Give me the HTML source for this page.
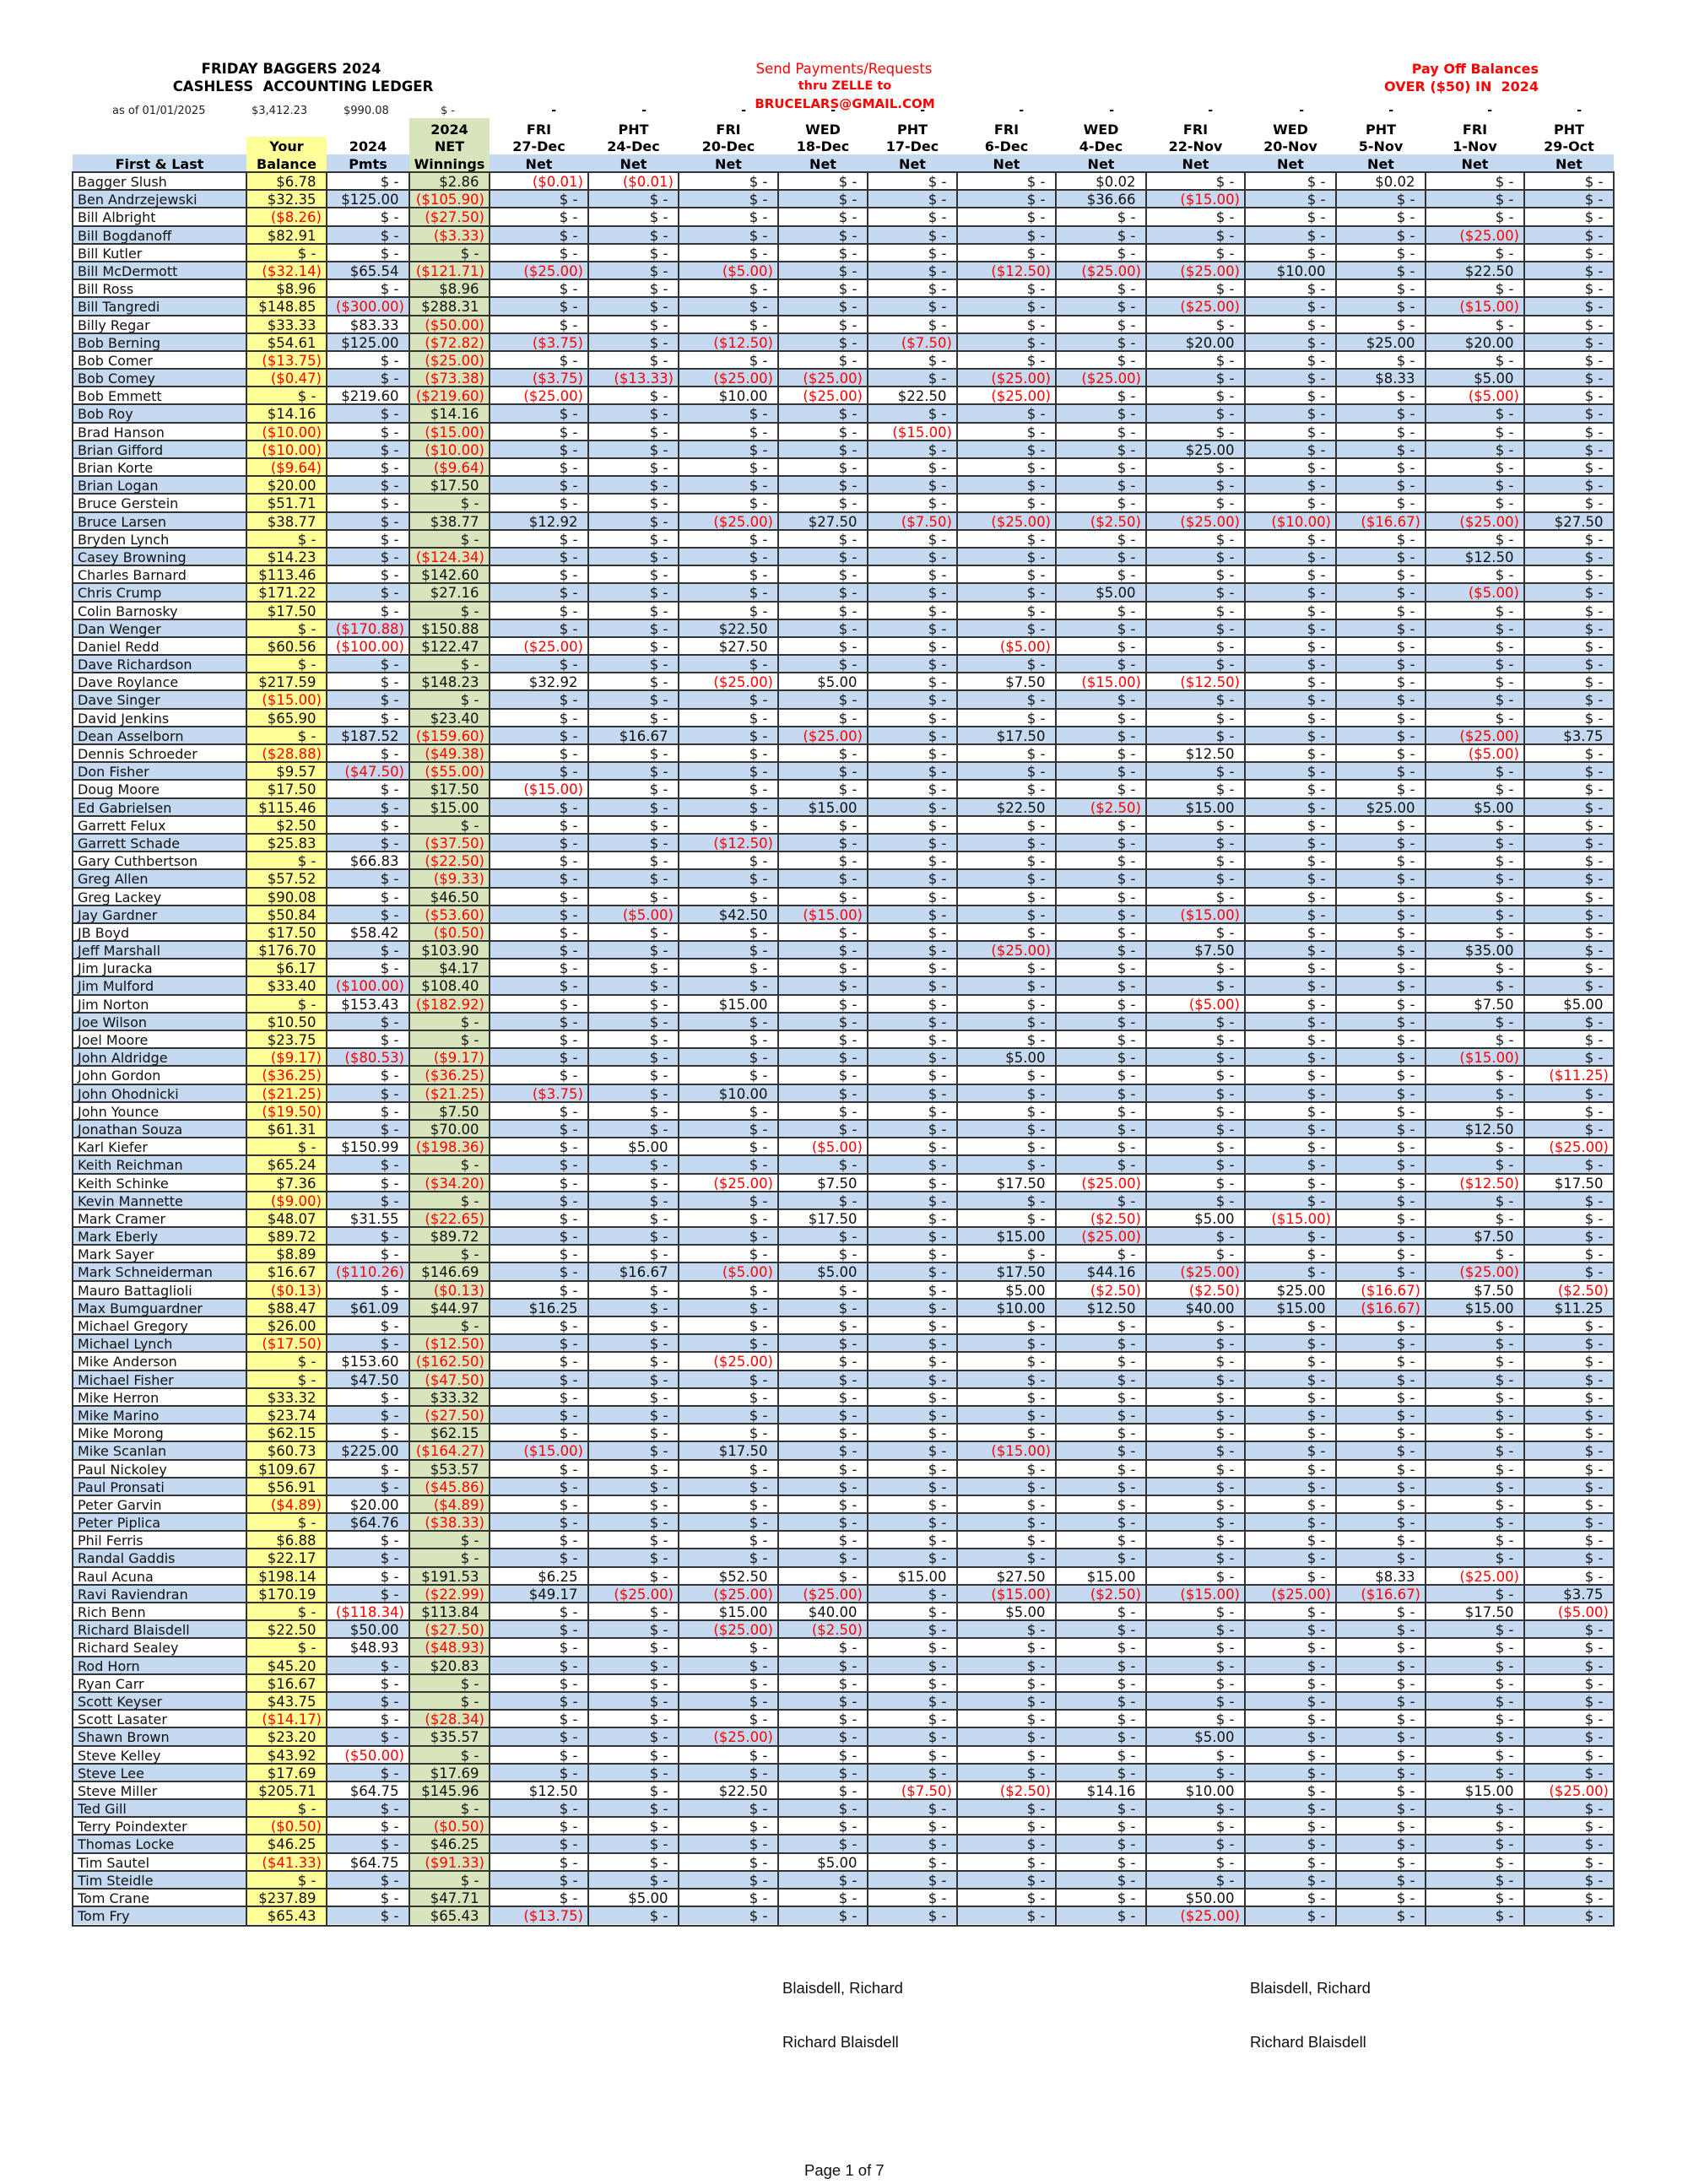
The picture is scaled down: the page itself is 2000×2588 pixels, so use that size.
<!DOCTYPE html>
<html><head><meta charset="utf-8"><style>
*{margin:0;padding:0;box-sizing:border-box}
html,body{width:2000px;height:2588px;background:#fff;overflow:hidden}
body{position:relative;font-family:"DejaVu Sans",sans-serif;color:#111}
.a{position:absolute;white-space:pre}
.g>*{position:absolute;top:0;height:100%;font-style:normal;white-space:pre}
.g>:nth-child(1){left:0;width:206px}
.g>:nth-child(2){left:206px;width:95px}
.g>:nth-child(3){left:301px;width:98px}
.g>:nth-child(4){left:399px;width:95px}
.g>:nth-child(5){left:494px;width:117px}
.g>:nth-child(6){left:611px;width:107px}
.g>:nth-child(7){left:718px;width:118px}
.g>:nth-child(8){left:836px;width:106px}
.g>:nth-child(9){left:942px;width:106px}
.g>:nth-child(10){left:1048px;width:117px}
.g>:nth-child(11){left:1165px;width:107px}
.g>:nth-child(12){left:1272px;width:117px}
.g>:nth-child(13){left:1389px;width:108px}
.g>:nth-child(14){left:1497px;width:106px}
.g>:nth-child(15){left:1603px;width:117px}
.g>:nth-child(16){left:1720px;width:106px}
.h{position:absolute;left:86px;width:1826px;height:20px;line-height:20px;font-size:16px;font-weight:bold;text-align:center;color:#000}
.d{position:absolute;left:86px;width:1826px;height:16px;line-height:16px;font-size:14px;font-weight:bold;text-align:right;color:#000}
.d>*{padding-right:38px}
#tb{position:absolute;left:86px;top:204px;width:1826px}
.r{position:relative;width:1826px;height:21.2px;font-size:16.5px;line-height:21.2px}
.r:nth-child(even){background:#c5d9f1}
.r::before{content:"";position:absolute;left:0;right:0;top:-1px;height:2px;background:#333;z-index:1}
.r>*{text-align:right;padding:1px 12.5px 0 0}
.r>b{color:#f00;font-weight:normal;padding-right:6px}
.r>:first-child{text-align:left;padding:1px 0 0 6px;font-size:16px}
.r>:nth-child(2){background:#ffff99}
.r>:nth-child(4){background:#d8e4bc}
.v{position:absolute;top:203px;height:2080px;width:2px;background:#333;z-index:2}
.bt{font-family:"Liberation Sans",sans-serif;font-size:18.5px;line-height:18.5px;color:#111}
</style></head><body>

<div class="a" style="left:45px;top:72px;width:600px;text-align:center;font-weight:bold;font-size:16.5px;line-height:20px;color:#000">FRIDAY BAGGERS 2024</div>
<div class="a" style="left:59px;top:92.6px;width:600px;text-align:center;font-weight:bold;font-size:16.5px;line-height:20px;color:#000">CASHLESS  ACCOUNTING LEDGER</div>

<div class="a" style="left:700px;top:72px;width:600px;text-align:center;font-size:16.5px;line-height:20px;color:#f00">Send Payments/Requests</div>
<div class="a" style="left:701px;top:91.7px;width:600px;text-align:center;font-weight:bold;font-size:14.5px;line-height:20px;color:#f00">thru ZELLE to</div>

<div class="a" style="left:1423px;top:72.1px;width:400px;text-align:right;font-weight:bold;font-size:16px;line-height:20px;color:#f00">Pay Off Balances</div>
<div class="a" style="left:1423px;top:92.7px;width:400px;text-align:right;font-weight:bold;font-size:16px;line-height:20px;color:#f00">OVER ($50) IN  2024</div>

<div class="a" style="left:133px;top:123.5px;font-size:13px;line-height:16px;color:#222">as of 01/01/2025</div>
<div class="a" style="left:298px;top:123.5px;font-size:13px;line-height:16px;color:#222">$3,412.23</div>
<div class="a" style="left:407px;top:123.5px;font-size:13px;line-height:16px;color:#222">$990.08</div>
<div class="a" style="left:522px;top:123.5px;font-size:13px;line-height:16px;color:#222">$ -</div>

<div class="g d" style="top:123px"><i></i><i></i><i></i><i></i><i>-</i><i>-</i><i>-</i><i>-</i><i>-</i><i>-</i><i>-</i><i>-</i><i>-</i><i>-</i><i>-</i><i>-</i></div>

<div class="a" style="left:701px;top:113.1px;width:600px;text-align:center;font-weight:bold;font-size:15px;line-height:20px;color:#f00">BRUCELARS@GMAIL.COM</div>

<div class="a" style="left:485px;top:140px;width:95px;height:64px;background:#d8e4bc"></div>
<div class="a" style="left:292px;top:162px;width:95px;height:42px;background:#ffff99"></div>
<div class="a" style="left:86px;top:183px;width:206px;height:21px;background:#c5d9f1"></div>
<div class="a" style="left:387px;top:183px;width:98px;height:21px;background:#c5d9f1"></div>
<div class="a" style="left:580px;top:183px;width:1332px;height:21px;background:#c5d9f1"></div>

<div class="g h" style="top:143.7px"><i></i><i></i><i></i><i>2024</i><i>FRI</i><i>PHT</i><i>FRI</i><i>WED</i><i>PHT</i><i>FRI</i><i>WED</i><i>FRI</i><i>WED</i><i>PHT</i><i>FRI</i><i>PHT</i></div>
<div class="g h" style="top:163.7px"><i></i><i>Your</i><i>2024</i><i>NET</i><i>27-Dec</i><i>24-Dec</i><i>20-Dec</i><i>18-Dec</i><i>17-Dec</i><i>6-Dec</i><i>4-Dec</i><i>22-Nov</i><i>20-Nov</i><i>5-Nov</i><i>1-Nov</i><i>29-Oct</i></div>
<div class="g h" style="top:185px"><i>First &amp; Last</i><i>Balance</i><i>Pmts</i><i>Winnings</i><i>Net</i><i>Net</i><i>Net</i><i>Net</i><i>Net</i><i>Net</i><i>Net</i><i>Net</i><i>Net</i><i>Net</i><i>Net</i><i>Net</i></div>

<div id="tb">
<div class="g r"><i>Bagger Slush</i><i>$6.78</i><i>$ -</i><i>$2.86</i><b>($0.01)</b><b>($0.01)</b><i>$ -</i><i>$ -</i><i>$ -</i><i>$ -</i><i>$0.02</i><i>$ -</i><i>$ -</i><i>$0.02</i><i>$ -</i><i>$ -</i></div>
<div class="g r"><i>Ben Andrzejewski</i><i>$32.35</i><i>$125.00</i><b>($105.90)</b><i>$ -</i><i>$ -</i><i>$ -</i><i>$ -</i><i>$ -</i><i>$ -</i><i>$36.66</i><b>($15.00)</b><i>$ -</i><i>$ -</i><i>$ -</i><i>$ -</i></div>
<div class="g r"><i>Bill Albright</i><b>($8.26)</b><i>$ -</i><b>($27.50)</b><i>$ -</i><i>$ -</i><i>$ -</i><i>$ -</i><i>$ -</i><i>$ -</i><i>$ -</i><i>$ -</i><i>$ -</i><i>$ -</i><i>$ -</i><i>$ -</i></div>
<div class="g r"><i>Bill Bogdanoff</i><i>$82.91</i><i>$ -</i><b>($3.33)</b><i>$ -</i><i>$ -</i><i>$ -</i><i>$ -</i><i>$ -</i><i>$ -</i><i>$ -</i><i>$ -</i><i>$ -</i><i>$ -</i><b>($25.00)</b><i>$ -</i></div>
<div class="g r"><i>Bill Kutler</i><i>$ -</i><i>$ -</i><i>$ -</i><i>$ -</i><i>$ -</i><i>$ -</i><i>$ -</i><i>$ -</i><i>$ -</i><i>$ -</i><i>$ -</i><i>$ -</i><i>$ -</i><i>$ -</i><i>$ -</i></div>
<div class="g r"><i>Bill McDermott</i><b>($32.14)</b><i>$65.54</i><b>($121.71)</b><b>($25.00)</b><i>$ -</i><b>($5.00)</b><i>$ -</i><i>$ -</i><b>($12.50)</b><b>($25.00)</b><b>($25.00)</b><i>$10.00</i><i>$ -</i><i>$22.50</i><i>$ -</i></div>
<div class="g r"><i>Bill Ross</i><i>$8.96</i><i>$ -</i><i>$8.96</i><i>$ -</i><i>$ -</i><i>$ -</i><i>$ -</i><i>$ -</i><i>$ -</i><i>$ -</i><i>$ -</i><i>$ -</i><i>$ -</i><i>$ -</i><i>$ -</i></div>
<div class="g r"><i>Bill Tangredi</i><i>$148.85</i><b>($300.00)</b><i>$288.31</i><i>$ -</i><i>$ -</i><i>$ -</i><i>$ -</i><i>$ -</i><i>$ -</i><i>$ -</i><b>($25.00)</b><i>$ -</i><i>$ -</i><b>($15.00)</b><i>$ -</i></div>
<div class="g r"><i>Billy Regar</i><i>$33.33</i><i>$83.33</i><b>($50.00)</b><i>$ -</i><i>$ -</i><i>$ -</i><i>$ -</i><i>$ -</i><i>$ -</i><i>$ -</i><i>$ -</i><i>$ -</i><i>$ -</i><i>$ -</i><i>$ -</i></div>
<div class="g r"><i>Bob Berning</i><i>$54.61</i><i>$125.00</i><b>($72.82)</b><b>($3.75)</b><i>$ -</i><b>($12.50)</b><i>$ -</i><b>($7.50)</b><i>$ -</i><i>$ -</i><i>$20.00</i><i>$ -</i><i>$25.00</i><i>$20.00</i><i>$ -</i></div>
<div class="g r"><i>Bob Comer</i><b>($13.75)</b><i>$ -</i><b>($25.00)</b><i>$ -</i><i>$ -</i><i>$ -</i><i>$ -</i><i>$ -</i><i>$ -</i><i>$ -</i><i>$ -</i><i>$ -</i><i>$ -</i><i>$ -</i><i>$ -</i></div>
<div class="g r"><i>Bob Comey</i><b>($0.47)</b><i>$ -</i><b>($73.38)</b><b>($3.75)</b><b>($13.33)</b><b>($25.00)</b><b>($25.00)</b><i>$ -</i><b>($25.00)</b><b>($25.00)</b><i>$ -</i><i>$ -</i><i>$8.33</i><i>$5.00</i><i>$ -</i></div>
<div class="g r"><i>Bob Emmett</i><i>$ -</i><i>$219.60</i><b>($219.60)</b><b>($25.00)</b><i>$ -</i><i>$10.00</i><b>($25.00)</b><i>$22.50</i><b>($25.00)</b><i>$ -</i><i>$ -</i><i>$ -</i><i>$ -</i><b>($5.00)</b><i>$ -</i></div>
<div class="g r"><i>Bob Roy</i><i>$14.16</i><i>$ -</i><i>$14.16</i><i>$ -</i><i>$ -</i><i>$ -</i><i>$ -</i><i>$ -</i><i>$ -</i><i>$ -</i><i>$ -</i><i>$ -</i><i>$ -</i><i>$ -</i><i>$ -</i></div>
<div class="g r"><i>Brad Hanson</i><b>($10.00)</b><i>$ -</i><b>($15.00)</b><i>$ -</i><i>$ -</i><i>$ -</i><i>$ -</i><b>($15.00)</b><i>$ -</i><i>$ -</i><i>$ -</i><i>$ -</i><i>$ -</i><i>$ -</i><i>$ -</i></div>
<div class="g r"><i>Brian Gifford</i><b>($10.00)</b><i>$ -</i><b>($10.00)</b><i>$ -</i><i>$ -</i><i>$ -</i><i>$ -</i><i>$ -</i><i>$ -</i><i>$ -</i><i>$25.00</i><i>$ -</i><i>$ -</i><i>$ -</i><i>$ -</i></div>
<div class="g r"><i>Brian Korte</i><b>($9.64)</b><i>$ -</i><b>($9.64)</b><i>$ -</i><i>$ -</i><i>$ -</i><i>$ -</i><i>$ -</i><i>$ -</i><i>$ -</i><i>$ -</i><i>$ -</i><i>$ -</i><i>$ -</i><i>$ -</i></div>
<div class="g r"><i>Brian Logan</i><i>$20.00</i><i>$ -</i><i>$17.50</i><i>$ -</i><i>$ -</i><i>$ -</i><i>$ -</i><i>$ -</i><i>$ -</i><i>$ -</i><i>$ -</i><i>$ -</i><i>$ -</i><i>$ -</i><i>$ -</i></div>
<div class="g r"><i>Bruce Gerstein</i><i>$51.71</i><i>$ -</i><i>$ -</i><i>$ -</i><i>$ -</i><i>$ -</i><i>$ -</i><i>$ -</i><i>$ -</i><i>$ -</i><i>$ -</i><i>$ -</i><i>$ -</i><i>$ -</i><i>$ -</i></div>
<div class="g r"><i>Bruce Larsen</i><i>$38.77</i><i>$ -</i><i>$38.77</i><i>$12.92</i><i>$ -</i><b>($25.00)</b><i>$27.50</i><b>($7.50)</b><b>($25.00)</b><b>($2.50)</b><b>($25.00)</b><b>($10.00)</b><b>($16.67)</b><b>($25.00)</b><i>$27.50</i></div>
<div class="g r"><i>Bryden Lynch</i><i>$ -</i><i>$ -</i><i>$ -</i><i>$ -</i><i>$ -</i><i>$ -</i><i>$ -</i><i>$ -</i><i>$ -</i><i>$ -</i><i>$ -</i><i>$ -</i><i>$ -</i><i>$ -</i><i>$ -</i></div>
<div class="g r"><i>Casey Browning</i><i>$14.23</i><i>$ -</i><b>($124.34)</b><i>$ -</i><i>$ -</i><i>$ -</i><i>$ -</i><i>$ -</i><i>$ -</i><i>$ -</i><i>$ -</i><i>$ -</i><i>$ -</i><i>$12.50</i><i>$ -</i></div>
<div class="g r"><i>Charles Barnard</i><i>$113.46</i><i>$ -</i><i>$142.60</i><i>$ -</i><i>$ -</i><i>$ -</i><i>$ -</i><i>$ -</i><i>$ -</i><i>$ -</i><i>$ -</i><i>$ -</i><i>$ -</i><i>$ -</i><i>$ -</i></div>
<div class="g r"><i>Chris Crump</i><i>$171.22</i><i>$ -</i><i>$27.16</i><i>$ -</i><i>$ -</i><i>$ -</i><i>$ -</i><i>$ -</i><i>$ -</i><i>$5.00</i><i>$ -</i><i>$ -</i><i>$ -</i><b>($5.00)</b><i>$ -</i></div>
<div class="g r"><i>Colin Barnosky</i><i>$17.50</i><i>$ -</i><i>$ -</i><i>$ -</i><i>$ -</i><i>$ -</i><i>$ -</i><i>$ -</i><i>$ -</i><i>$ -</i><i>$ -</i><i>$ -</i><i>$ -</i><i>$ -</i><i>$ -</i></div>
<div class="g r"><i>Dan Wenger</i><i>$ -</i><b>($170.88)</b><i>$150.88</i><i>$ -</i><i>$ -</i><i>$22.50</i><i>$ -</i><i>$ -</i><i>$ -</i><i>$ -</i><i>$ -</i><i>$ -</i><i>$ -</i><i>$ -</i><i>$ -</i></div>
<div class="g r"><i>Daniel Redd</i><i>$60.56</i><b>($100.00)</b><i>$122.47</i><b>($25.00)</b><i>$ -</i><i>$27.50</i><i>$ -</i><i>$ -</i><b>($5.00)</b><i>$ -</i><i>$ -</i><i>$ -</i><i>$ -</i><i>$ -</i><i>$ -</i></div>
<div class="g r"><i>Dave Richardson</i><i>$ -</i><i>$ -</i><i>$ -</i><i>$ -</i><i>$ -</i><i>$ -</i><i>$ -</i><i>$ -</i><i>$ -</i><i>$ -</i><i>$ -</i><i>$ -</i><i>$ -</i><i>$ -</i><i>$ -</i></div>
<div class="g r"><i>Dave Roylance</i><i>$217.59</i><i>$ -</i><i>$148.23</i><i>$32.92</i><i>$ -</i><b>($25.00)</b><i>$5.00</i><i>$ -</i><i>$7.50</i><b>($15.00)</b><b>($12.50)</b><i>$ -</i><i>$ -</i><i>$ -</i><i>$ -</i></div>
<div class="g r"><i>Dave Singer</i><b>($15.00)</b><i>$ -</i><i>$ -</i><i>$ -</i><i>$ -</i><i>$ -</i><i>$ -</i><i>$ -</i><i>$ -</i><i>$ -</i><i>$ -</i><i>$ -</i><i>$ -</i><i>$ -</i><i>$ -</i></div>
<div class="g r"><i>David Jenkins</i><i>$65.90</i><i>$ -</i><i>$23.40</i><i>$ -</i><i>$ -</i><i>$ -</i><i>$ -</i><i>$ -</i><i>$ -</i><i>$ -</i><i>$ -</i><i>$ -</i><i>$ -</i><i>$ -</i><i>$ -</i></div>
<div class="g r"><i>Dean Asselborn</i><i>$ -</i><i>$187.52</i><b>($159.60)</b><i>$ -</i><i>$16.67</i><i>$ -</i><b>($25.00)</b><i>$ -</i><i>$17.50</i><i>$ -</i><i>$ -</i><i>$ -</i><i>$ -</i><b>($25.00)</b><i>$3.75</i></div>
<div class="g r"><i>Dennis Schroeder</i><b>($28.88)</b><i>$ -</i><b>($49.38)</b><i>$ -</i><i>$ -</i><i>$ -</i><i>$ -</i><i>$ -</i><i>$ -</i><i>$ -</i><i>$12.50</i><i>$ -</i><i>$ -</i><b>($5.00)</b><i>$ -</i></div>
<div class="g r"><i>Don Fisher</i><i>$9.57</i><b>($47.50)</b><b>($55.00)</b><i>$ -</i><i>$ -</i><i>$ -</i><i>$ -</i><i>$ -</i><i>$ -</i><i>$ -</i><i>$ -</i><i>$ -</i><i>$ -</i><i>$ -</i><i>$ -</i></div>
<div class="g r"><i>Doug Moore</i><i>$17.50</i><i>$ -</i><i>$17.50</i><b>($15.00)</b><i>$ -</i><i>$ -</i><i>$ -</i><i>$ -</i><i>$ -</i><i>$ -</i><i>$ -</i><i>$ -</i><i>$ -</i><i>$ -</i><i>$ -</i></div>
<div class="g r"><i>Ed Gabrielsen</i><i>$115.46</i><i>$ -</i><i>$15.00</i><i>$ -</i><i>$ -</i><i>$ -</i><i>$15.00</i><i>$ -</i><i>$22.50</i><b>($2.50)</b><i>$15.00</i><i>$ -</i><i>$25.00</i><i>$5.00</i><i>$ -</i></div>
<div class="g r"><i>Garrett Felux</i><i>$2.50</i><i>$ -</i><i>$ -</i><i>$ -</i><i>$ -</i><i>$ -</i><i>$ -</i><i>$ -</i><i>$ -</i><i>$ -</i><i>$ -</i><i>$ -</i><i>$ -</i><i>$ -</i><i>$ -</i></div>
<div class="g r"><i>Garrett Schade</i><i>$25.83</i><i>$ -</i><b>($37.50)</b><i>$ -</i><i>$ -</i><b>($12.50)</b><i>$ -</i><i>$ -</i><i>$ -</i><i>$ -</i><i>$ -</i><i>$ -</i><i>$ -</i><i>$ -</i><i>$ -</i></div>
<div class="g r"><i>Gary Cuthbertson</i><i>$ -</i><i>$66.83</i><b>($22.50)</b><i>$ -</i><i>$ -</i><i>$ -</i><i>$ -</i><i>$ -</i><i>$ -</i><i>$ -</i><i>$ -</i><i>$ -</i><i>$ -</i><i>$ -</i><i>$ -</i></div>
<div class="g r"><i>Greg Allen</i><i>$57.52</i><i>$ -</i><b>($9.33)</b><i>$ -</i><i>$ -</i><i>$ -</i><i>$ -</i><i>$ -</i><i>$ -</i><i>$ -</i><i>$ -</i><i>$ -</i><i>$ -</i><i>$ -</i><i>$ -</i></div>
<div class="g r"><i>Greg Lackey</i><i>$90.08</i><i>$ -</i><i>$46.50</i><i>$ -</i><i>$ -</i><i>$ -</i><i>$ -</i><i>$ -</i><i>$ -</i><i>$ -</i><i>$ -</i><i>$ -</i><i>$ -</i><i>$ -</i><i>$ -</i></div>
<div class="g r"><i>Jay Gardner</i><i>$50.84</i><i>$ -</i><b>($53.60)</b><i>$ -</i><b>($5.00)</b><i>$42.50</i><b>($15.00)</b><i>$ -</i><i>$ -</i><i>$ -</i><b>($15.00)</b><i>$ -</i><i>$ -</i><i>$ -</i><i>$ -</i></div>
<div class="g r"><i>JB Boyd</i><i>$17.50</i><i>$58.42</i><b>($0.50)</b><i>$ -</i><i>$ -</i><i>$ -</i><i>$ -</i><i>$ -</i><i>$ -</i><i>$ -</i><i>$ -</i><i>$ -</i><i>$ -</i><i>$ -</i><i>$ -</i></div>
<div class="g r"><i>Jeff Marshall</i><i>$176.70</i><i>$ -</i><i>$103.90</i><i>$ -</i><i>$ -</i><i>$ -</i><i>$ -</i><i>$ -</i><b>($25.00)</b><i>$ -</i><i>$7.50</i><i>$ -</i><i>$ -</i><i>$35.00</i><i>$ -</i></div>
<div class="g r"><i>Jim Juracka</i><i>$6.17</i><i>$ -</i><i>$4.17</i><i>$ -</i><i>$ -</i><i>$ -</i><i>$ -</i><i>$ -</i><i>$ -</i><i>$ -</i><i>$ -</i><i>$ -</i><i>$ -</i><i>$ -</i><i>$ -</i></div>
<div class="g r"><i>Jim Mulford</i><i>$33.40</i><b>($100.00)</b><i>$108.40</i><i>$ -</i><i>$ -</i><i>$ -</i><i>$ -</i><i>$ -</i><i>$ -</i><i>$ -</i><i>$ -</i><i>$ -</i><i>$ -</i><i>$ -</i><i>$ -</i></div>
<div class="g r"><i>Jim Norton</i><i>$ -</i><i>$153.43</i><b>($182.92)</b><i>$ -</i><i>$ -</i><i>$15.00</i><i>$ -</i><i>$ -</i><i>$ -</i><i>$ -</i><b>($5.00)</b><i>$ -</i><i>$ -</i><i>$7.50</i><i>$5.00</i></div>
<div class="g r"><i>Joe Wilson</i><i>$10.50</i><i>$ -</i><i>$ -</i><i>$ -</i><i>$ -</i><i>$ -</i><i>$ -</i><i>$ -</i><i>$ -</i><i>$ -</i><i>$ -</i><i>$ -</i><i>$ -</i><i>$ -</i><i>$ -</i></div>
<div class="g r"><i>Joel Moore</i><i>$23.75</i><i>$ -</i><i>$ -</i><i>$ -</i><i>$ -</i><i>$ -</i><i>$ -</i><i>$ -</i><i>$ -</i><i>$ -</i><i>$ -</i><i>$ -</i><i>$ -</i><i>$ -</i><i>$ -</i></div>
<div class="g r"><i>John Aldridge</i><b>($9.17)</b><b>($80.53)</b><b>($9.17)</b><i>$ -</i><i>$ -</i><i>$ -</i><i>$ -</i><i>$ -</i><i>$5.00</i><i>$ -</i><i>$ -</i><i>$ -</i><i>$ -</i><b>($15.00)</b><i>$ -</i></div>
<div class="g r"><i>John Gordon</i><b>($36.25)</b><i>$ -</i><b>($36.25)</b><i>$ -</i><i>$ -</i><i>$ -</i><i>$ -</i><i>$ -</i><i>$ -</i><i>$ -</i><i>$ -</i><i>$ -</i><i>$ -</i><i>$ -</i><b>($11.25)</b></div>
<div class="g r"><i>John Ohodnicki</i><b>($21.25)</b><i>$ -</i><b>($21.25)</b><b>($3.75)</b><i>$ -</i><i>$10.00</i><i>$ -</i><i>$ -</i><i>$ -</i><i>$ -</i><i>$ -</i><i>$ -</i><i>$ -</i><i>$ -</i><i>$ -</i></div>
<div class="g r"><i>John Younce</i><b>($19.50)</b><i>$ -</i><i>$7.50</i><i>$ -</i><i>$ -</i><i>$ -</i><i>$ -</i><i>$ -</i><i>$ -</i><i>$ -</i><i>$ -</i><i>$ -</i><i>$ -</i><i>$ -</i><i>$ -</i></div>
<div class="g r"><i>Jonathan Souza</i><i>$61.31</i><i>$ -</i><i>$70.00</i><i>$ -</i><i>$ -</i><i>$ -</i><i>$ -</i><i>$ -</i><i>$ -</i><i>$ -</i><i>$ -</i><i>$ -</i><i>$ -</i><i>$12.50</i><i>$ -</i></div>
<div class="g r"><i>Karl Kiefer</i><i>$ -</i><i>$150.99</i><b>($198.36)</b><i>$ -</i><i>$5.00</i><i>$ -</i><b>($5.00)</b><i>$ -</i><i>$ -</i><i>$ -</i><i>$ -</i><i>$ -</i><i>$ -</i><i>$ -</i><b>($25.00)</b></div>
<div class="g r"><i>Keith Reichman</i><i>$65.24</i><i>$ -</i><i>$ -</i><i>$ -</i><i>$ -</i><i>$ -</i><i>$ -</i><i>$ -</i><i>$ -</i><i>$ -</i><i>$ -</i><i>$ -</i><i>$ -</i><i>$ -</i><i>$ -</i></div>
<div class="g r"><i>Keith Schinke</i><i>$7.36</i><i>$ -</i><b>($34.20)</b><i>$ -</i><i>$ -</i><b>($25.00)</b><i>$7.50</i><i>$ -</i><i>$17.50</i><b>($25.00)</b><i>$ -</i><i>$ -</i><i>$ -</i><b>($12.50)</b><i>$17.50</i></div>
<div class="g r"><i>Kevin Mannette</i><b>($9.00)</b><i>$ -</i><i>$ -</i><i>$ -</i><i>$ -</i><i>$ -</i><i>$ -</i><i>$ -</i><i>$ -</i><i>$ -</i><i>$ -</i><i>$ -</i><i>$ -</i><i>$ -</i><i>$ -</i></div>
<div class="g r"><i>Mark Cramer</i><i>$48.07</i><i>$31.55</i><b>($22.65)</b><i>$ -</i><i>$ -</i><i>$ -</i><i>$17.50</i><i>$ -</i><i>$ -</i><b>($2.50)</b><i>$5.00</i><b>($15.00)</b><i>$ -</i><i>$ -</i><i>$ -</i></div>
<div class="g r"><i>Mark Eberly</i><i>$89.72</i><i>$ -</i><i>$89.72</i><i>$ -</i><i>$ -</i><i>$ -</i><i>$ -</i><i>$ -</i><i>$15.00</i><b>($25.00)</b><i>$ -</i><i>$ -</i><i>$ -</i><i>$7.50</i><i>$ -</i></div>
<div class="g r"><i>Mark Sayer</i><i>$8.89</i><i>$ -</i><i>$ -</i><i>$ -</i><i>$ -</i><i>$ -</i><i>$ -</i><i>$ -</i><i>$ -</i><i>$ -</i><i>$ -</i><i>$ -</i><i>$ -</i><i>$ -</i><i>$ -</i></div>
<div class="g r"><i>Mark Schneiderman</i><i>$16.67</i><b>($110.26)</b><i>$146.69</i><i>$ -</i><i>$16.67</i><b>($5.00)</b><i>$5.00</i><i>$ -</i><i>$17.50</i><i>$44.16</i><b>($25.00)</b><i>$ -</i><i>$ -</i><b>($25.00)</b><i>$ -</i></div>
<div class="g r"><i>Mauro Battaglioli</i><b>($0.13)</b><i>$ -</i><b>($0.13)</b><i>$ -</i><i>$ -</i><i>$ -</i><i>$ -</i><i>$ -</i><i>$5.00</i><b>($2.50)</b><b>($2.50)</b><i>$25.00</i><b>($16.67)</b><i>$7.50</i><b>($2.50)</b></div>
<div class="g r"><i>Max Bumguardner</i><i>$88.47</i><i>$61.09</i><i>$44.97</i><i>$16.25</i><i>$ -</i><i>$ -</i><i>$ -</i><i>$ -</i><i>$10.00</i><i>$12.50</i><i>$40.00</i><i>$15.00</i><b>($16.67)</b><i>$15.00</i><i>$11.25</i></div>
<div class="g r"><i>Michael Gregory</i><i>$26.00</i><i>$ -</i><i>$ -</i><i>$ -</i><i>$ -</i><i>$ -</i><i>$ -</i><i>$ -</i><i>$ -</i><i>$ -</i><i>$ -</i><i>$ -</i><i>$ -</i><i>$ -</i><i>$ -</i></div>
<div class="g r"><i>Michael Lynch</i><b>($17.50)</b><i>$ -</i><b>($12.50)</b><i>$ -</i><i>$ -</i><i>$ -</i><i>$ -</i><i>$ -</i><i>$ -</i><i>$ -</i><i>$ -</i><i>$ -</i><i>$ -</i><i>$ -</i><i>$ -</i></div>
<div class="g r"><i>Mike Anderson</i><i>$ -</i><i>$153.60</i><b>($162.50)</b><i>$ -</i><i>$ -</i><b>($25.00)</b><i>$ -</i><i>$ -</i><i>$ -</i><i>$ -</i><i>$ -</i><i>$ -</i><i>$ -</i><i>$ -</i><i>$ -</i></div>
<div class="g r"><i>Michael Fisher</i><i>$ -</i><i>$47.50</i><b>($47.50)</b><i>$ -</i><i>$ -</i><i>$ -</i><i>$ -</i><i>$ -</i><i>$ -</i><i>$ -</i><i>$ -</i><i>$ -</i><i>$ -</i><i>$ -</i><i>$ -</i></div>
<div class="g r"><i>Mike Herron</i><i>$33.32</i><i>$ -</i><i>$33.32</i><i>$ -</i><i>$ -</i><i>$ -</i><i>$ -</i><i>$ -</i><i>$ -</i><i>$ -</i><i>$ -</i><i>$ -</i><i>$ -</i><i>$ -</i><i>$ -</i></div>
<div class="g r"><i>Mike Marino</i><i>$23.74</i><i>$ -</i><b>($27.50)</b><i>$ -</i><i>$ -</i><i>$ -</i><i>$ -</i><i>$ -</i><i>$ -</i><i>$ -</i><i>$ -</i><i>$ -</i><i>$ -</i><i>$ -</i><i>$ -</i></div>
<div class="g r"><i>Mike Morong</i><i>$62.15</i><i>$ -</i><i>$62.15</i><i>$ -</i><i>$ -</i><i>$ -</i><i>$ -</i><i>$ -</i><i>$ -</i><i>$ -</i><i>$ -</i><i>$ -</i><i>$ -</i><i>$ -</i><i>$ -</i></div>
<div class="g r"><i>Mike Scanlan</i><i>$60.73</i><i>$225.00</i><b>($164.27)</b><b>($15.00)</b><i>$ -</i><i>$17.50</i><i>$ -</i><i>$ -</i><b>($15.00)</b><i>$ -</i><i>$ -</i><i>$ -</i><i>$ -</i><i>$ -</i><i>$ -</i></div>
<div class="g r"><i>Paul Nickoley</i><i>$109.67</i><i>$ -</i><i>$53.57</i><i>$ -</i><i>$ -</i><i>$ -</i><i>$ -</i><i>$ -</i><i>$ -</i><i>$ -</i><i>$ -</i><i>$ -</i><i>$ -</i><i>$ -</i><i>$ -</i></div>
<div class="g r"><i>Paul Pronsati</i><i>$56.91</i><i>$ -</i><b>($45.86)</b><i>$ -</i><i>$ -</i><i>$ -</i><i>$ -</i><i>$ -</i><i>$ -</i><i>$ -</i><i>$ -</i><i>$ -</i><i>$ -</i><i>$ -</i><i>$ -</i></div>
<div class="g r"><i>Peter Garvin</i><b>($4.89)</b><i>$20.00</i><b>($4.89)</b><i>$ -</i><i>$ -</i><i>$ -</i><i>$ -</i><i>$ -</i><i>$ -</i><i>$ -</i><i>$ -</i><i>$ -</i><i>$ -</i><i>$ -</i><i>$ -</i></div>
<div class="g r"><i>Peter Piplica</i><i>$ -</i><i>$64.76</i><b>($38.33)</b><i>$ -</i><i>$ -</i><i>$ -</i><i>$ -</i><i>$ -</i><i>$ -</i><i>$ -</i><i>$ -</i><i>$ -</i><i>$ -</i><i>$ -</i><i>$ -</i></div>
<div class="g r"><i>Phil Ferris</i><i>$6.88</i><i>$ -</i><i>$ -</i><i>$ -</i><i>$ -</i><i>$ -</i><i>$ -</i><i>$ -</i><i>$ -</i><i>$ -</i><i>$ -</i><i>$ -</i><i>$ -</i><i>$ -</i><i>$ -</i></div>
<div class="g r"><i>Randal Gaddis</i><i>$22.17</i><i>$ -</i><i>$ -</i><i>$ -</i><i>$ -</i><i>$ -</i><i>$ -</i><i>$ -</i><i>$ -</i><i>$ -</i><i>$ -</i><i>$ -</i><i>$ -</i><i>$ -</i><i>$ -</i></div>
<div class="g r"><i>Raul Acuna</i><i>$198.14</i><i>$ -</i><i>$191.53</i><i>$6.25</i><i>$ -</i><i>$52.50</i><i>$ -</i><i>$15.00</i><i>$27.50</i><i>$15.00</i><i>$ -</i><i>$ -</i><i>$8.33</i><b>($25.00)</b><i>$ -</i></div>
<div class="g r"><i>Ravi Raviendran</i><i>$170.19</i><i>$ -</i><b>($22.99)</b><i>$49.17</i><b>($25.00)</b><b>($25.00)</b><b>($25.00)</b><i>$ -</i><b>($15.00)</b><b>($2.50)</b><b>($15.00)</b><b>($25.00)</b><b>($16.67)</b><i>$ -</i><i>$3.75</i></div>
<div class="g r"><i>Rich Benn</i><i>$ -</i><b>($118.34)</b><i>$113.84</i><i>$ -</i><i>$ -</i><i>$15.00</i><i>$40.00</i><i>$ -</i><i>$5.00</i><i>$ -</i><i>$ -</i><i>$ -</i><i>$ -</i><i>$17.50</i><b>($5.00)</b></div>
<div class="g r"><i>Richard Blaisdell</i><i>$22.50</i><i>$50.00</i><b>($27.50)</b><i>$ -</i><i>$ -</i><b>($25.00)</b><b>($2.50)</b><i>$ -</i><i>$ -</i><i>$ -</i><i>$ -</i><i>$ -</i><i>$ -</i><i>$ -</i><i>$ -</i></div>
<div class="g r"><i>Richard Sealey</i><i>$ -</i><i>$48.93</i><b>($48.93)</b><i>$ -</i><i>$ -</i><i>$ -</i><i>$ -</i><i>$ -</i><i>$ -</i><i>$ -</i><i>$ -</i><i>$ -</i><i>$ -</i><i>$ -</i><i>$ -</i></div>
<div class="g r"><i>Rod Horn</i><i>$45.20</i><i>$ -</i><i>$20.83</i><i>$ -</i><i>$ -</i><i>$ -</i><i>$ -</i><i>$ -</i><i>$ -</i><i>$ -</i><i>$ -</i><i>$ -</i><i>$ -</i><i>$ -</i><i>$ -</i></div>
<div class="g r"><i>Ryan Carr</i><i>$16.67</i><i>$ -</i><i>$ -</i><i>$ -</i><i>$ -</i><i>$ -</i><i>$ -</i><i>$ -</i><i>$ -</i><i>$ -</i><i>$ -</i><i>$ -</i><i>$ -</i><i>$ -</i><i>$ -</i></div>
<div class="g r"><i>Scott Keyser</i><i>$43.75</i><i>$ -</i><i>$ -</i><i>$ -</i><i>$ -</i><i>$ -</i><i>$ -</i><i>$ -</i><i>$ -</i><i>$ -</i><i>$ -</i><i>$ -</i><i>$ -</i><i>$ -</i><i>$ -</i></div>
<div class="g r"><i>Scott Lasater</i><b>($14.17)</b><i>$ -</i><b>($28.34)</b><i>$ -</i><i>$ -</i><i>$ -</i><i>$ -</i><i>$ -</i><i>$ -</i><i>$ -</i><i>$ -</i><i>$ -</i><i>$ -</i><i>$ -</i><i>$ -</i></div>
<div class="g r"><i>Shawn Brown</i><i>$23.20</i><i>$ -</i><i>$35.57</i><i>$ -</i><i>$ -</i><b>($25.00)</b><i>$ -</i><i>$ -</i><i>$ -</i><i>$ -</i><i>$5.00</i><i>$ -</i><i>$ -</i><i>$ -</i><i>$ -</i></div>
<div class="g r"><i>Steve Kelley</i><i>$43.92</i><b>($50.00)</b><i>$ -</i><i>$ -</i><i>$ -</i><i>$ -</i><i>$ -</i><i>$ -</i><i>$ -</i><i>$ -</i><i>$ -</i><i>$ -</i><i>$ -</i><i>$ -</i><i>$ -</i></div>
<div class="g r"><i>Steve Lee</i><i>$17.69</i><i>$ -</i><i>$17.69</i><i>$ -</i><i>$ -</i><i>$ -</i><i>$ -</i><i>$ -</i><i>$ -</i><i>$ -</i><i>$ -</i><i>$ -</i><i>$ -</i><i>$ -</i><i>$ -</i></div>
<div class="g r"><i>Steve Miller</i><i>$205.71</i><i>$64.75</i><i>$145.96</i><i>$12.50</i><i>$ -</i><i>$22.50</i><i>$ -</i><b>($7.50)</b><b>($2.50)</b><i>$14.16</i><i>$10.00</i><i>$ -</i><i>$ -</i><i>$15.00</i><b>($25.00)</b></div>
<div class="g r"><i>Ted Gill</i><i>$ -</i><i>$ -</i><i>$ -</i><i>$ -</i><i>$ -</i><i>$ -</i><i>$ -</i><i>$ -</i><i>$ -</i><i>$ -</i><i>$ -</i><i>$ -</i><i>$ -</i><i>$ -</i><i>$ -</i></div>
<div class="g r"><i>Terry Poindexter</i><b>($0.50)</b><i>$ -</i><b>($0.50)</b><i>$ -</i><i>$ -</i><i>$ -</i><i>$ -</i><i>$ -</i><i>$ -</i><i>$ -</i><i>$ -</i><i>$ -</i><i>$ -</i><i>$ -</i><i>$ -</i></div>
<div class="g r"><i>Thomas Locke</i><i>$46.25</i><i>$ -</i><i>$46.25</i><i>$ -</i><i>$ -</i><i>$ -</i><i>$ -</i><i>$ -</i><i>$ -</i><i>$ -</i><i>$ -</i><i>$ -</i><i>$ -</i><i>$ -</i><i>$ -</i></div>
<div class="g r"><i>Tim Sautel</i><b>($41.33)</b><i>$64.75</i><b>($91.33)</b><i>$ -</i><i>$ -</i><i>$ -</i><i>$5.00</i><i>$ -</i><i>$ -</i><i>$ -</i><i>$ -</i><i>$ -</i><i>$ -</i><i>$ -</i><i>$ -</i></div>
<div class="g r"><i>Tim Steidle</i><i>$ -</i><i>$ -</i><i>$ -</i><i>$ -</i><i>$ -</i><i>$ -</i><i>$ -</i><i>$ -</i><i>$ -</i><i>$ -</i><i>$ -</i><i>$ -</i><i>$ -</i><i>$ -</i><i>$ -</i></div>
<div class="g r"><i>Tom Crane</i><i>$237.89</i><i>$ -</i><i>$47.71</i><i>$ -</i><i>$5.00</i><i>$ -</i><i>$ -</i><i>$ -</i><i>$ -</i><i>$ -</i><i>$50.00</i><i>$ -</i><i>$ -</i><i>$ -</i><i>$ -</i></div>
<div class="g r"><i>Tom Fry</i><i>$65.43</i><i>$ -</i><i>$65.43</i><b>($13.75)</b><i>$ -</i><i>$ -</i><i>$ -</i><i>$ -</i><i>$ -</i><i>$ -</i><b>($25.00)</b><i>$ -</i><i>$ -</i><i>$ -</i><i>$ -</i></div>
</div>

<div class="a" style="left:86px;top:2280.6px;width:1826px;height:2px;background:#333;z-index:2"></div>
<div class="v" style="left:85px"></div>
<div class="v" style="left:291px"></div>
<div class="v" style="left:386px"></div>
<div class="v" style="left:484px"></div>
<div class="v" style="left:579px"></div>
<div class="v" style="left:696px"></div>
<div class="v" style="left:803px"></div>
<div class="v" style="left:921px"></div>
<div class="v" style="left:1027px"></div>
<div class="v" style="left:1133px"></div>
<div class="v" style="left:1250px"></div>
<div class="v" style="left:1357px"></div>
<div class="v" style="left:1474px"></div>
<div class="v" style="left:1582px"></div>
<div class="v" style="left:1688px"></div>
<div class="v" style="left:1805px"></div>
<div class="v" style="left:1911px"></div>

<div class="a bt" style="left:927px;top:2347px">Blaisdell, Richard</div>
<div class="a bt" style="left:1481px;top:2347px">Blaisdell, Richard</div>
<div class="a bt" style="left:927px;top:2411px">Richard Blaisdell</div>
<div class="a bt" style="left:1481px;top:2411px">Richard Blaisdell</div>
<div class="a bt" style="left:953px;top:2563.4px">Page 1 of 7</div>

</body></html>
